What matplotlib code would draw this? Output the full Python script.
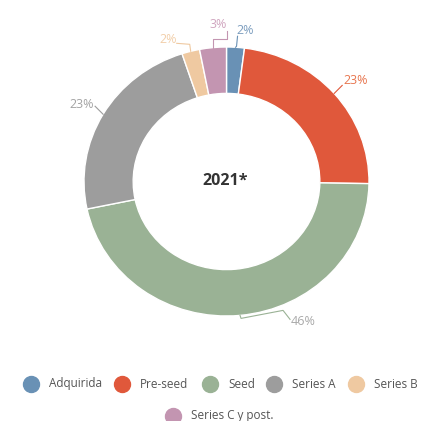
import numpy as np
import matplotlib.pyplot as plt

# --- data ---
categories = ["Adquirida", "Pre-seed", "Seed", "Series A", "Series B", "Series C y post."]
shares = [2, 23, 46, 23, 2, 3]
labels = ["2%", "23%", "46%", "23%", "2%", "3%"]
center_label = "2021*"

colors = ["#6991b5", "#e0583b", "#9ab295", "#9d9d9d", "#efc9a1", "#c395b1"]
label_colors = ["#7d9ebf", "#e8764f", "#a9a9a9", "#a3a3a3", "#f2cfaa", "#d0a5bf"]

# --- layout (pixels, 421x421 canvas) ---
W = H = 421
CX, CY = 226.5, 181.5      # donut centre
RX, RY = 142.5, 134.5      # outer radii (slightly squashed like the original)
HOLE = 0.655

# leader bend points and text centre, relative to the slice edge point (px)
leaders = [
    ([(1, -1), (2, -11)], (10, -17)),
    ([(8, -8)], (21, -13)),
    ([(1, 3), (43, -5), (50, 4)], (63, 6)),
    ([(-8, -8)], (-21, -10)),
    ([(-1, -7), (-14, -8)], (-23, -12)),
    ([(0, -9), (14, -9), (14, -17)], (5, -23)),
]

plt.rcParams["font.family"] = ["Open Sans", "DejaVu Sans"]

fig = plt.figure(figsize=(W / 100, H / 100), dpi=100)
ax = fig.add_axes([(CX - RX) / W, (H - CY - RY) / H, 2 * RX / W, 2 * RY / H])

wedges, _ = ax.pie(shares, colors=colors, startangle=90, counterclock=False,
                   radius=1, wedgeprops=dict(width=1 - HOLE, edgecolor="white", linewidth=1))
ax.set_aspect("auto")
ax.set_xlim(-1, 1)
ax.set_ylim(-1, 1)
ax.axis("off")


def px2d(px, py):
    return (px - CX) / RX, (CY - py) / RY


for w, lab, c, lc, (bends, toff) in zip(wedges, labels, colors, label_colors, leaders):
    mid = np.deg2rad((w.theta1 + w.theta2) / 2)
    sx = CX + RX * np.cos(mid)
    sy = CY - RY * np.sin(mid)
    pts = [(sx, sy)] + [(sx + dx, sy + dy) for dx, dy in bends]
    xs, ys = zip(*[px2d(*p) for p in pts])
    ax.plot(xs, ys, color=c, lw=0.8, clip_on=False)
    tx, ty = px2d(sx + toff[0], sy + toff[1])
    ax.text(tx, ty, lab, color=lc, fontsize=9, ha="center", va="center", clip_on=False)

ax.text(-0.01, 0.0, center_label, fontsize=11.5, fontweight="bold", color="#333333",
        ha="center", va="center")

# --- legend (drawn by hand so the last item can sit centred on its own row) ---
leg_pos = [(31, 384), (122, 384), (210, 384), (274, 384), (356, 384), (173, 416)]
for (lx, ly), name, c in zip(leg_pos, categories, colors):
    fig.lines.append(plt.Line2D([lx / W], [1 - ly / H], marker="o", markersize=11.5,
                                color=c, transform=fig.transFigure, linestyle="none"))
    fig.text((lx + 18) / W, 1 - ly / H, name, fontsize=8.5, color="#555555",
             ha="left", va="center")

fig.savefig("out.png", dpi=100, facecolor="white")
